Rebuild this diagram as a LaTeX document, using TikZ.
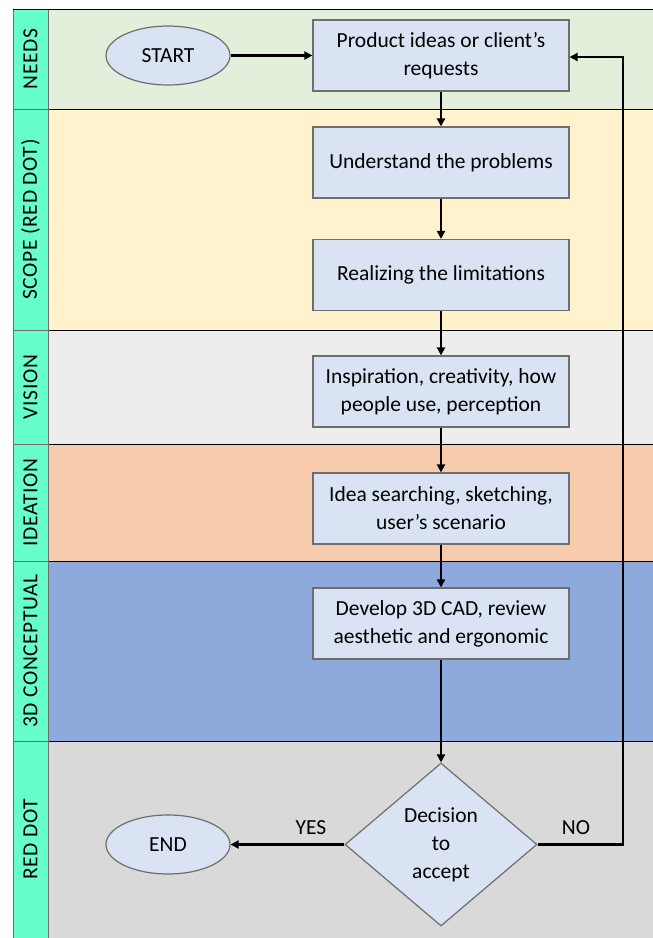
\documentclass[tikz,border=0pt]{standalone}
\usepackage{fontspec}
\setmainfont{Carlito}
\usetikzlibrary{shapes.geometric,arrows.meta}
\definecolor{laneneeds}{HTML}{E2EFDA}
\definecolor{lanescope}{HTML}{FFF2CC}
\definecolor{lanevision}{HTML}{EDEDED}
\definecolor{laneidea}{HTML}{F8CBAD}
\definecolor{lanecad}{HTML}{8EA9DB}
\definecolor{lanered}{HTML}{D9D9D9}
\definecolor{labelcol}{HTML}{66FFCC}
\definecolor{boxfill}{HTML}{DAE3F3}
\definecolor{boxline}{HTML}{6E6E6E}
\tikzset{
  lanebg/.style={draw=black,line width=0.9pt},
  lanelabel/.style={draw=boxline,line width=0.9pt,fill=labelcol},
  lanetext/.style={rotate=90,font=\fontsize{21.5}{24}\selectfont\addfontfeature{LetterSpace=3},inner sep=0pt},
  procbox/.style={rectangle,draw=boxline,line width=1.2pt,fill=boxfill,minimum width=256pt,minimum height=71pt,align=center,inner sep=0pt,font=\fontsize{21.5}{28}\selectfont},
  term/.style={ellipse,draw=boxline,line width=1.2pt,fill=boxfill,minimum width=124pt,minimum height=59pt,inner sep=0pt,font=\fontsize{21.5}{24}\selectfont},
  decision/.style={diamond,draw=boxline,line width=1.2pt,fill=boxfill,minimum width=192pt,minimum height=163pt,inner sep=0pt,align=center,font=\fontsize{21.5}{28}\selectfont},
  flow/.style={line width=2.6pt,-{Triangle[length=8pt,width=8pt]}},
  edgetext/.style={font=\fontsize{21.5}{24}\selectfont,inner sep=0pt}
}
\begin{document}
\begin{tikzpicture}[x=1pt,y=-1pt]
\useasboundingbox (0,0) rectangle (653,938);
\fill[white] (0,0) rectangle (653,938);
\begin{scope}
\clip (0,0) rectangle (653,938);
% lanes
\path[lanebg,fill=laneneeds] (48,9) rectangle (660,109);
\path[lanebg,fill=lanescope] (48,109) rectangle (660,330);
\path[lanebg,fill=lanevision] (48,330) rectangle (660,444);
\path[lanebg,fill=laneidea] (48,444) rectangle (660,561);
\path[lanebg,fill=lanecad] (48,561) rectangle (660,741);
\path[lanebg,fill=lanered] (48,741) rectangle (660,945);
% label column
\path[lanelabel] (13,9) rectangle (48,109);
\path[lanelabel] (13,109) rectangle (48,330);
\path[lanelabel] (13,330) rectangle (48,444);
\path[lanelabel] (13,444) rectangle (48,561);
\path[lanelabel] (13,561) rectangle (48,741);
\path[lanelabel] (13,741) rectangle (48,945);
\draw[black,line width=0.9pt] (13,9) -- (660,9);
\end{scope}
\node[lanetext] (lneeds) at (30.5,59) {NEEDS};
\node[lanetext] (lscope) at (30.5,219.5) {SCOPE (RED DOT)};
\node[lanetext] (lvision) at (30.5,387) {VISION};
\node[lanetext] (lidea) at (30.5,502.5) {IDEATION};
\node[lanetext] (lcad) at (30.5,651) {3D CONCEPTUAL};
\node[lanetext] (lred) at (30.5,839.5) {RED DOT};
% nodes
\node[term] (start) at (168,55.5) {START};
\node[procbox] (p1) at (441,55.5) {Product ideas or client’s\\requests};
\node[procbox] (p2) at (441,162.5) {Understand the problems};
\node[procbox] (p3) at (441,275) {Realizing the limitations};
\node[procbox] (p4) at (441,391.5) {Inspiration, creativity, how\\people use, perception};
\node[procbox] (p5) at (441,508.5) {Idea searching, sketching,\\user’s scenario};
\node[procbox] (p6) at (441,623.5) {Develop 3D CAD, review\\aesthetic and ergonomic};
\node[decision] (dec) at (441,844.5) {Decision\\to\\accept};
\node[term] (end) at (168,844.5) {END};
\coordinate (nocorner1) at (623,844.5);
\coordinate (nocorner2) at (623,57);
% connectors
\draw[flow] (start) -- (p1);
\draw[flow] (p1) -- (p2);
\draw[flow] (p2) -- (p3);
\draw[flow] (p3) -- (p4);
\draw[flow] (p4) -- (p5);
\draw[flow] (p5) -- (p6);
\draw[flow] (p6) -- (dec);
\draw[flow] (dec.west) -- (end.east);
\draw[flow] (dec.east) -- (nocorner1) -- (nocorner2) -- (p1.east |- nocorner2);
\node[edgetext] (yes) at (311,828) {YES};
\node[edgetext] (no) at (576,828) {NO};
\end{tikzpicture}
\end{document}
